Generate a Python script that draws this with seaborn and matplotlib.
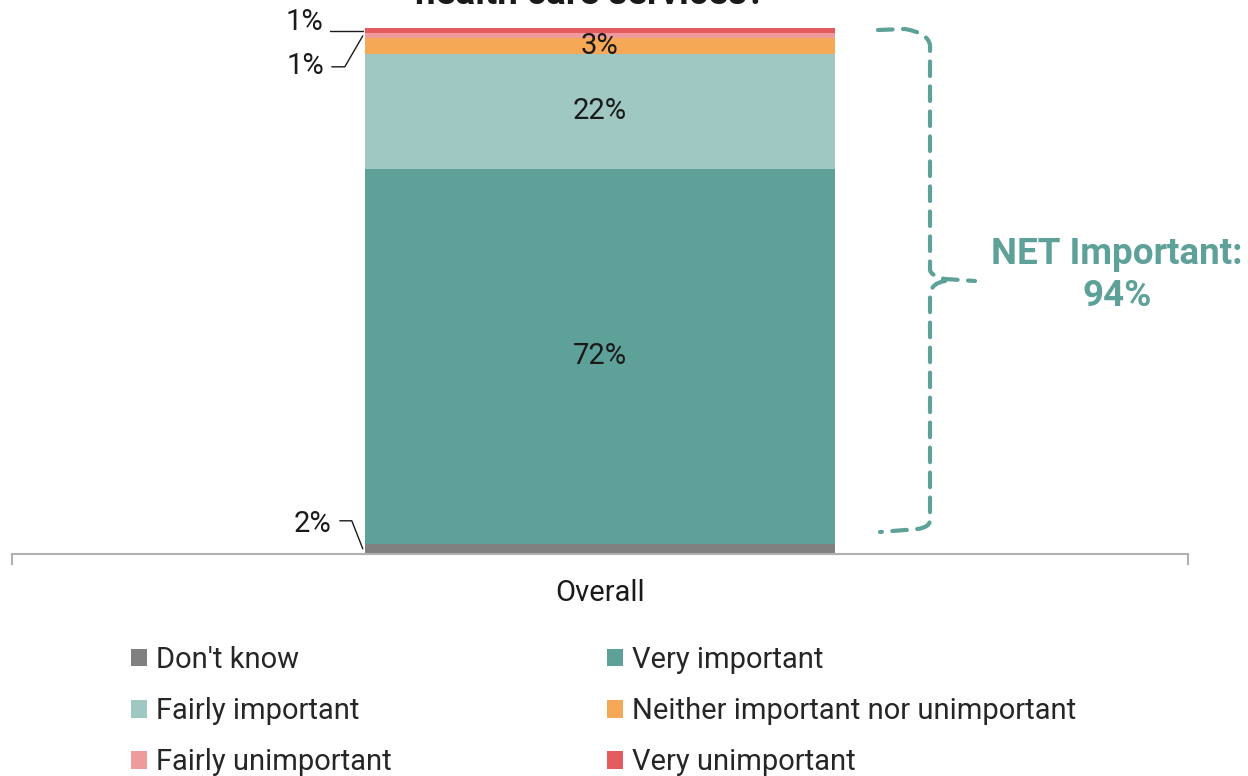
import matplotlib
matplotlib.use("Agg")
import matplotlib.pyplot as plt
from matplotlib.patches import Patch, PathPatch
from matplotlib.path import Path
from matplotlib.lines import Line2D
import seaborn as sns

# data (stack order, bottom to top)
category = ["Overall"]
labels = ["Don't know", "Very important", "Fairly important",
          "Neither important nor unimportant", "Fairly unimportant", "Very unimportant"]
values = [2, 72, 22, 3, 1, 1]
colors = ["#808080", "#5ea199", "#a0c8c3", "#f5a855", "#f09b9b", "#e35a5f"]
net_important = 94

sns.set_theme(style="white")
plt.rcParams["font.family"] = ["Roboto", "DejaVu Sans"]

fig = plt.figure(figsize=(12.48, 7.76), dpi=100)
ax = fig.add_axes([12 / 1248, 1 - 554 / 776, 1176 / 1248, 526 / 776])

# stacked bar
bottom = 0
for lab, val, col in zip(labels, values, colors):
    sns.barplot(x=category, y=[val], bottom=bottom, color=col, width=0.4,
                errorbar=None, ax=ax, saturation=1, linewidth=0)
    bottom += val

total = sum(values)
ax.set_ylim(0, total)
ax.set_xlim(-0.5, 0.5)

# labels inside the bar
fs = 21
cum = 0
for i, val in enumerate(values):
    mid = cum + val / 2
    if i in (1, 2, 3):
        ax.text(0, mid, f"{val}%", ha="center", va="center", fontsize=fs, color="#1a1a1a")
    cum += val

# outside labels with leader lines (offsets in pixels from bar left edge)
fig.canvas.draw()
bar_left = -0.2


def leader(y, text, pts, text_off):
    bx, by = ax.transData.transform((bar_left, y))
    xs = [bx + dx for dx, dy in pts]
    ys = [by + dy for dx, dy in pts]
    fig.add_artist(Line2D(xs, ys, transform=None, color="#1a1a1a", lw=1.0))
    fig.text((bx + text_off[0]) / fig.bbox.width, (by + text_off[1]) / fig.bbox.height,
             text, ha="right", va="center", fontsize=fs, color="#1a1a1a")


cums = [sum(values[:i]) + values[i] / 2 for i in range(len(values))]
leader(cums[5], f"{values[5]}%", [(-2, 0), (-35, 0)], (-41, 9))
leader(cums[4], f"{values[4]}%", [(-2, 0), (-20, -31), (-33, -31)], (-40, -30))
leader(cums[0], f"{values[0]}%", [(-2, 0), (-13, 28), (-25, 28)], (-33, 25))

# axis styling
ax.set_yticks([])
ax.set_ylabel("")
ax.set_xlabel("")
for side in ["left", "right", "top"]:
    ax.spines[side].set_visible(False)
ax.spines["bottom"].set_color("#b0b0b0")
ax.spines["bottom"].set_linewidth(1.5)
ax.set_xticks([0])
ax.set_xticklabels(category, fontsize=fs, color="#1a1a1a")
ax.tick_params(axis="x", which="major", length=0, pad=18)
ax.set_xticks([-0.5, 0.5], minor=True)
ax.tick_params(axis="x", which="minor", length=8, width=1.5, color="#b0b0b0", bottom=True)

# NET bracket (figure pixel coords)
W, H = fig.bbox.width, fig.bbox.height
teal = "#5ea199"
verts = [(878, 30), (905, 29), (928, 33), (930, 45),
         (930, 270), (931, 276), (945, 279), (975, 281),
         (945, 281), (931, 283), (930, 295),
         (930, 520), (930, 530), (905, 530), (880, 532)]
codes = [Path.MOVETO, Path.LINETO, Path.CURVE3, Path.CURVE3,
         Path.LINETO, Path.CURVE3, Path.CURVE3, Path.LINETO,
         Path.MOVETO, Path.CURVE3, Path.CURVE3,
         Path.LINETO, Path.CURVE3, Path.CURVE3, Path.LINETO]
verts_fig = [(x / W, 1 - y / H) for x, y in verts]
bracket = PathPatch(Path(verts_fig, codes), transform=fig.transFigure, fill=False,
                    edgecolor=teal, lw=3, linestyle=(0, (3.5, 2.5)), capstyle="round")
fig.add_artist(bracket)
fig.text(1117 / W, 1 - 275 / H, f"NET Important:\n{net_important}%", ha="center", va="center",
         fontsize=26.5, fontweight="bold", color=teal, linespacing=1.2)

# title (top clipped as in the original)
fig.text(590 / W, 1 - 4 / H, "health care services?", ha="center", va="baseline",
         fontsize=26.5, fontweight="bold", color="#1a1a1a")

# legend, row-wise order
handles = [Patch(facecolor=c, edgecolor="none") for c in colors]
order = [0, 2, 4, 1, 3, 5]
fig.legend([handles[i] for i in order], [labels[i] for i in order], ncol=2,
           loc="upper left", bbox_to_anchor=(131 / W, 1 - 646 / H), frameon=False,
           fontsize=fs, handlelength=0.55, handleheight=0.55, handletextpad=0.3,
           columnspacing=7.4, labelspacing=0.79, borderaxespad=0, borderpad=0)

fig.savefig("out.png", dpi=100)
